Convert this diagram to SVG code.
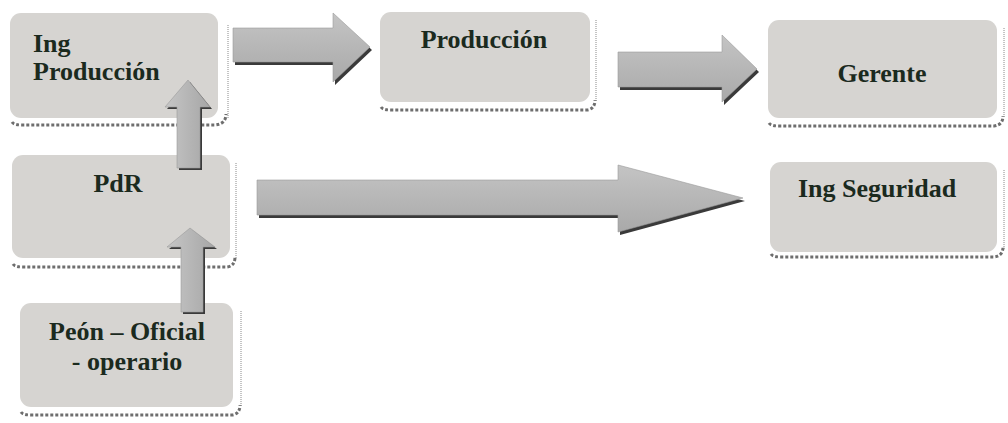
<svg xmlns="http://www.w3.org/2000/svg" width="1008" height="423" viewBox="0 0 1008 423">
<style>
.box{fill:#d6d4d1;}
.shd{fill:none;stroke:#6e6e6e;stroke-width:3;stroke-dasharray:3 2;}
.edge{fill:none;stroke:#8a8a8a;stroke-width:1;stroke-dasharray:1 1;}
.lbl{font-family:"Liberation Serif","Times New Roman",serif;font-weight:bold;font-size:26px;fill:#1b2a1e;}
.arr{fill:url(#ag);stroke:#9a9a9a;stroke-width:0.6;}
.ash{fill:#3a3a3a;}
</style>
<defs>
<linearGradient id="ag" x1="0" y1="0" x2="0" y2="1">
<stop offset="0" stop-color="#c4c4c4"/>
<stop offset="1" stop-color="#a9a9a9"/>
</linearGradient>
<linearGradient id="agv" x1="0" y1="0" x2="1" y2="0">
<stop offset="0" stop-color="#c6c6c6"/>
<stop offset="1" stop-color="#a6a6a6"/>
</linearGradient>
</defs>

<g id="node-ing-produccion">
<rect class="box" x="10" y="13" width="208" height="105" rx="11"/>
<path class="shd" d="M12 122 Q14 125 22 125 L215 125 Q226 124 226 114"/>
<path class="edge" d="M228 25 L228 118"/>
<text class="lbl" x="33" y="52">Ing</text>
<text class="lbl" x="33" y="80">Producción</text>
</g>

<g id="node-produccion">
<rect class="box" x="380" y="12" width="210" height="90" rx="11"/>
<path class="shd" d="M381 107 Q383 110 391 110 L587 110 Q595 109 595 100"/>
<path class="edge" d="M596 20 L596 102"/>
<text class="lbl" x="484" y="48" text-anchor="middle">Producción</text>
</g>

<g id="node-gerente">
<rect class="box" x="768" y="20" width="229" height="98" rx="11"/>
<path class="shd" d="M769 123 Q771 126 779 126 L994 126 Q1003 125 1003 116"/>
<path class="edge" d="M1004 28 L1004 118"/>
<text class="lbl" x="882" y="82" text-anchor="middle">Gerente</text>
</g>

<g id="node-ing-seguridad">
<rect class="box" x="770" y="162" width="227" height="90" rx="11"/>
<path class="shd" d="M771 254 Q773 257 781 257 L994 257 Q1003 256 1003 247"/>
<path class="edge" d="M1004 170 L1004 250"/>
<text class="lbl" x="877" y="197" text-anchor="middle">Ing Seguridad</text>
</g>

<g id="node-pdr">
<rect class="box" x="12" y="155" width="218" height="103" rx="11"/>
<path class="shd" d="M13 264 Q15 267 23 267 L227 267 Q235 266 235 257"/>
<path class="edge" d="M236 163 L236 258"/>
<text class="lbl" x="118" y="192" text-anchor="middle">PdR</text>
</g>

<g id="node-peon">
<rect class="box" x="20" y="303" width="213" height="104" rx="11"/>
<path class="shd" d="M21 412 Q23 415 31 415 L232 415 Q240 414 240 405"/>
<path class="edge" d="M241 311 L241 407"/>
<text class="lbl" x="127" y="340" text-anchor="middle">Peón – Oficial</text>
<text class="lbl" x="127" y="370" text-anchor="middle">- operario</text>
</g>

<g id="connectors">
<polygon class="ash" points="235,31 335,31 335,16 372,50 335,85 335,65 235,65"/>
<polygon class="arr" points="233,28 333,28 333,13 370,47 333,82 333,62 233,62"/>

<polygon class="ash" points="620,55 724,55 724,38 759,72 724,105 724,90 620,90"/>
<polygon class="arr" points="618,52 722,52 722,35 757,69 722,102 722,87 618,87"/>

<polygon class="ash" points="259,183 620,183 620,168 745,201 620,235 620,218 259,218"/>
<polygon class="arr" points="257,180 618,180 618,165 743,198 618,232 618,215 257,215"/>

<polygon class="ash" points="179,170 179,109 167,109 190,82 212,109 202,109 202,170"/>
<polygon class="arr" points="177,168 177,107 165,107 188,80 210,107 200,107 200,168" style="fill:url(#agv)"/>

<polygon class="ash" points="183,314 183,249 169,249 192,230 217,249 205,249 205,314"/>
<polygon class="arr" points="181,312 181,247 167,247 190,228 215,247 203,247 203,312" style="fill:url(#agv)"/>
</g>
</svg>
